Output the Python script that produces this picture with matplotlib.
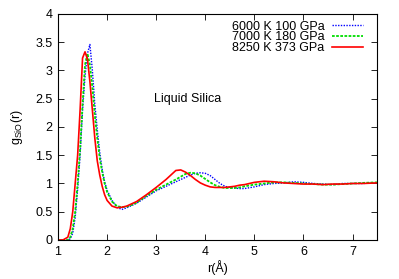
import numpy as np
import matplotlib.pyplot as plt

plt.rcParams['font.family'] = ['Liberation Sans', 'DejaVu Sans']
plt.rcParams['mathtext.fontset'] = 'custom'
plt.rcParams['mathtext.rm'] = 'Liberation Sans'

# r grid (Angstrom) and g_SiO(r)
r = [1.0, 1.1, 1.2, 1.25, 1.3, 1.35, 1.4, 1.45, 1.5, 1.55, 1.6, 1.65, 1.7,
     1.75, 1.8, 1.85, 1.9, 1.95, 2.0, 2.1, 2.2, 2.3, 2.4, 2.5, 2.6, 2.8,
     3.0, 3.2, 3.4, 3.5, 3.6, 3.7, 3.8, 3.9, 4.0, 4.1, 4.2, 4.3, 4.4, 4.5,
     4.6, 4.7, 4.8, 5.0, 5.2, 5.4, 5.6, 5.8, 6.0, 6.2, 6.4, 6.6, 6.8, 7.0,
     7.2, 7.5]

g_6000 = [0, 0, 0, 0.02, 0.12, 0.4, 0.9, 1.5, 2.3, 2.9, 3.3, 3.46, 3.0,
          2.4, 1.95, 1.55, 1.25, 1.03, 0.88, 0.7, 0.58, 0.54, 0.57, 0.61, 0.65, 0.76,
          0.87, 0.95, 1.03, 1.07, 1.11, 1.15, 1.18, 1.19, 1.18, 1.14, 1.07, 1.0, 0.95, 0.93,
          0.92, 0.91, 0.91, 0.94, 0.98, 1.0, 1.01, 1.03, 1.02, 1.0, 0.99, 0.98, 1.0, 1.0,
          1.0, 1.01]

g_7000 = [0, 0, 0, 0.05, 0.2, 0.5, 1.0, 1.6, 2.4, 3.1, 3.3, 3.1, 2.7,
          2.2, 1.8, 1.45, 1.2, 1.0, 0.85, 0.68, 0.6, 0.58, 0.59, 0.62, 0.66, 0.78,
          0.89, 0.98, 1.07, 1.12, 1.17, 1.19, 1.18, 1.14, 1.08, 1.02, 0.97, 0.94, 0.92, 0.92,
          0.92, 0.93, 0.95, 0.98, 1.0, 1.02, 1.02, 1.01, 1.0, 0.99, 0.98, 0.98, 0.99, 1.0,
          1.01, 1.02]

g_8250 = [0, 0, 0.05, 0.2, 0.5, 1.0, 1.5, 2.3, 3.22, 3.33, 3.2, 2.8, 2.3,
          1.8, 1.4, 1.15, 0.95, 0.8, 0.7, 0.6, 0.57, 0.58, 0.6, 0.64, 0.68, 0.8,
          0.93, 1.07, 1.23, 1.24, 1.2, 1.14, 1.07, 1.01, 0.97, 0.94, 0.93, 0.93, 0.93, 0.94,
          0.95, 0.97, 0.98, 1.02, 1.04, 1.03, 1.01, 1.0, 0.99, 0.99, 0.98, 0.99, 0.99, 1.0,
          1.0, 1.01]

labels = ['6000 K 100 GPa', '7000 K 180 GPa', '8250 K 373 GPa']

fig = plt.figure(figsize=(3.99, 2.79), dpi=100)
ax = fig.add_axes([0.1454, 0.1398, 0.7996, 0.8102])

ax.plot(r, g_6000, color='#0000ff', lw=1.0, ls=(0, (1, 1)), label=labels[0])
ax.plot(r, g_7000, color='#00dd00', lw=1.3, ls=(0, (1.5, 0.8)), label=labels[1])
ax.plot(r, g_8250, color='#ff0000', lw=1.2, ls='-', label=labels[2])

ax.set_xlim(1, 7.5)
ax.set_ylim(0, 4)
ax.set_xticks(range(1, 8))
ax.set_yticks(np.arange(0, 4.01, 0.5))
ax.set_yticklabels(['0', '0.5', '1', '1.5', '2', '2.5', '3', '3.5', '4'])
ax.tick_params(direction='in', top=True, right=True, length=4, width=0.6,
               labelsize=9, pad=4)
for s in ax.spines.values():
    s.set_linewidth(0.8)

ax.set_xlabel('r(Å)', fontsize=9, labelpad=2)
ax.set_ylabel(r'g$_{\rm SiO}$(r)', fontsize=9, labelpad=7)

ax.text(3.64, 2.5, 'Liquid Silica', fontsize=9, ha='center', va='center')

ax.legend(loc='upper right', bbox_to_anchor=(0.965, 0.982), frameon=False,
          fontsize=9, markerfirst=False, handlelength=2.5, handletextpad=0.6,
          labelspacing=-0.1, borderaxespad=0, borderpad=0.2)

fig.savefig('out.png', dpi=100)
